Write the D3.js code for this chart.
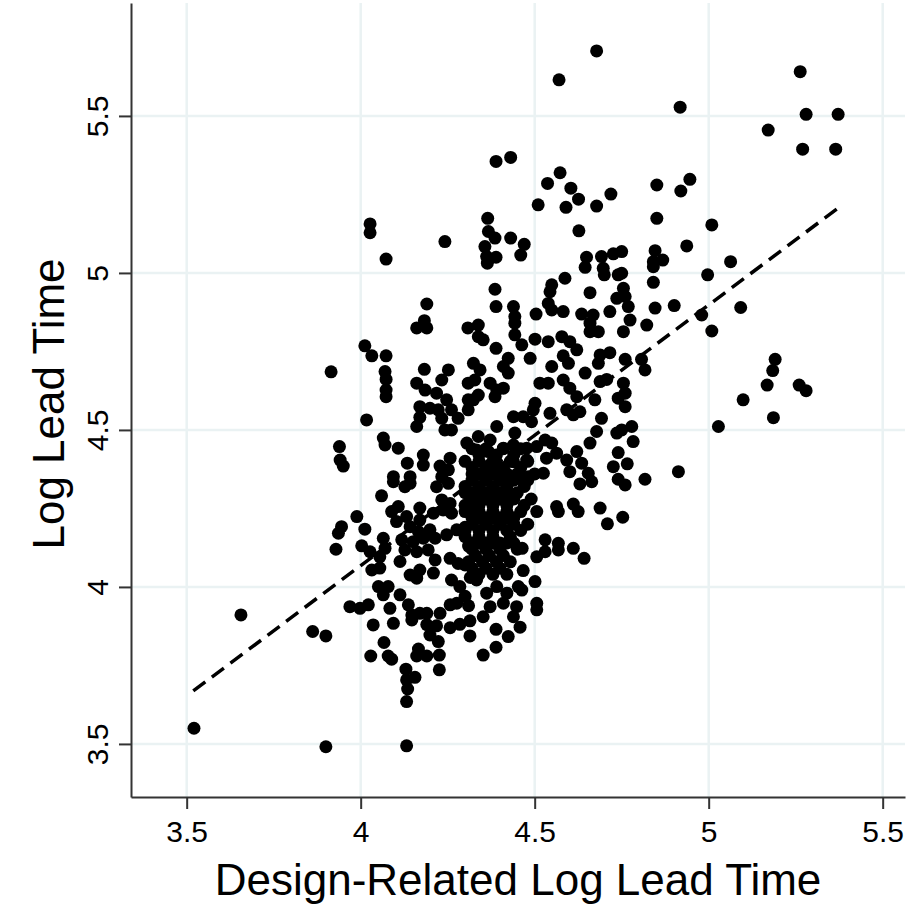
<!DOCTYPE html>
<meta charset="utf-8">
<head>
<style>
  body { margin: 0; background: #fff; }
  svg { display: block; }
  text { font-family: "Liberation Sans", Arial, sans-serif; fill: #000; }
</style>
</head>
<body>
<script src="https://d3js.org/d3.v7.min.js"></script>
<div id="chart"></div>
<script>

// design-related log lead time (x) vs log lead time (y)
const obs = [
  [3.521,3.550],[3.656,3.911],[3.862,3.858],[3.900,3.844],[3.900,3.491],[4.132,3.494],[3.915,4.685],
  [4.027,5.156],[4.027,5.128],[4.073,5.044],[4.242,5.100],[4.190,4.901],[4.183,4.848],[4.161,4.825],[4.190,4.825],[4.308,4.825],
  [4.389,5.355],[4.431,5.368],[4.573,5.319],[4.537,5.285],[4.604,5.270],[4.626,5.235],[4.719,5.251],[4.510,5.217],[4.590,5.209],
  [4.678,5.213],[4.627,5.134],[4.365,5.174],[4.367,5.132],[4.386,5.111],[4.357,5.084],[4.362,5.052],[4.389,5.050],[4.364,5.031],
  [4.431,5.111],[4.470,5.091],[4.460,5.057],[4.649,5.050],[4.645,5.018],[4.692,5.052],[4.697,5.015],[4.726,5.061],[4.740,4.994],
  [4.700,4.994],[4.587,4.983],[4.549,4.962],[4.544,4.940],[4.539,4.903],[4.549,4.882],[4.582,4.877],[4.659,4.937],[4.386,4.948],
  [4.389,4.893],[4.439,4.893],[4.443,4.861],[4.443,4.840],[4.504,4.869],[4.635,4.869],[4.668,4.866],[4.716,4.877],[4.659,4.840],
  [4.338,4.834],[4.736,4.919],
  [5.263,5.641],[5.280,5.505],[5.372,5.505],[5.171,5.455],[5.270,5.394],[5.365,5.394],[4.918,5.528],[4.851,5.280],[4.946,5.298],
  [4.920,5.261],[4.851,5.174],[5.009,5.153],[4.937,5.086],[4.846,5.071],[4.841,5.036],[4.868,5.041],[4.841,5.020],[5.063,5.036],
  [4.997,4.994],[4.841,4.970],[4.901,4.896],[4.846,4.888],[5.092,4.890],[4.980,4.866],[5.009,4.815],[4.822,4.834],[4.750,5.068],
  [4.750,4.999],[4.755,4.951],[4.760,4.925],[4.769,4.893],[4.774,4.850],[4.755,4.813],[4.760,4.725],[4.807,4.725],[4.817,4.691],
  [4.755,4.649],[4.760,4.617],[4.760,4.574],[4.779,4.511],[4.783,4.463],[4.750,4.500],[5.191,4.725],[5.184,4.689],[5.168,4.643],
  [5.260,4.643],[5.280,4.625],[5.099,4.596],[5.186,4.539],[5.028,4.511],
  [4.740,4.428],[4.766,4.392],[4.740,4.343],[4.760,4.325],[4.817,4.343],[4.913,4.367],[4.688,4.251],[4.709,4.201],[4.753,4.222],
  [4.630,4.328],[4.664,4.335],[4.611,4.264],[4.625,4.240],[4.506,4.240],[4.563,4.256],[4.568,4.240],[4.530,4.150],[4.568,4.139],
  [4.568,4.118],[4.530,4.112],[4.506,4.096],[4.611,4.123],[4.642,4.091],[4.464,4.123],[4.467,4.052],[4.501,4.017],[4.453,4.001],
  [4.463,3.990],[4.506,3.948],[4.506,3.927],
  [4.036,3.879],[4.094,3.884],[4.147,3.895],[4.067,3.823],[4.029,3.780],[4.079,3.780],[4.089,3.770],[4.130,3.738],[4.156,3.712],
  [4.132,3.704],[4.135,3.675],[4.132,3.635],[4.166,3.802],[4.190,3.780],[4.161,3.780],[4.199,3.847],[4.223,3.826],[4.226,3.783],
  [4.226,3.736],[4.190,3.880],[4.218,3.876],[4.257,3.870],[4.285,3.881],[4.314,3.892],[4.314,3.844],[4.352,3.783],[4.389,3.865],
  [4.389,3.808],[4.424,3.842],[4.458,3.872],
  [4.678,5.707],[4.570,5.615],
  [4.012,4.768],[4.032,4.736],[4.073,4.736],[4.070,4.686],[4.073,4.661],[4.073,4.627],[4.073,4.606],[4.017,4.532],
  [4.183,4.693],[4.252,4.691],[4.233,4.659],[4.161,4.649],[4.185,4.627],[4.218,4.617],[4.247,4.596],[4.261,4.564],[4.223,4.564],
  [4.199,4.569],[4.170,4.574],[4.161,4.511],[4.170,4.540],[4.233,4.537],[4.242,4.500],[4.261,4.500],[4.280,4.537],[4.309,4.649],
  [4.309,4.596],[4.309,4.564],[4.305,4.458],[3.939,4.447],[3.941,4.404],[3.950,4.385],[4.065,4.474],[4.070,4.452],[4.108,4.442],
  [4.134,4.394],[4.180,4.420],[4.180,4.388],[4.228,4.385],[4.257,4.410],[4.252,4.373],[4.233,4.351],[4.094,4.351],[4.142,4.351],
  [4.338,4.797],[4.352,4.787],[4.443,4.803],[4.463,4.771],[4.487,4.728],[4.501,4.789],[4.539,4.781],[4.578,4.797],[4.601,4.781],
  [4.621,4.755],[4.582,4.736],[4.597,4.712],[4.659,4.813],[4.683,4.813],[4.688,4.739],[4.716,4.746],[4.683,4.712],[4.389,4.760],
  [4.424,4.728],[4.410,4.702],[4.424,4.681],[4.324,4.712],[4.343,4.691],[4.549,4.702],[4.645,4.681],[4.688,4.654],[4.707,4.661],
  [4.582,4.659],[4.601,4.633],[4.621,4.606],[4.515,4.649],[4.539,4.649],[4.372,4.649],[4.391,4.627],[4.410,4.633],[4.328,4.659],
  [4.338,4.611],[4.324,4.596],[4.386,4.606],[4.673,4.596],[4.740,4.601],[4.501,4.585],[4.496,4.564],[4.592,4.564],[4.611,4.548],
  [4.630,4.558],[4.544,4.553],[4.439,4.542],[4.467,4.542],[4.491,4.526],[4.692,4.537],[4.391,4.511],[4.678,4.495],[4.736,4.490],
  [4.659,4.458],[4.621,4.431],[4.338,4.479],[4.372,4.468],[4.333,4.436],[4.367,4.431],[4.443,4.490],[4.439,4.452],[4.410,4.442],
  [4.477,4.442],[4.506,4.447],[4.530,4.468],[4.549,4.458],[4.563,4.426],[4.534,4.410],[4.477,4.404],[4.439,4.399],[4.592,4.404],
  [4.601,4.367],[4.635,4.394],[4.654,4.362],[4.726,4.383],[4.372,4.389],[4.352,4.362],[4.400,4.373],[4.420,4.351],[4.525,4.362],
  [4.482,4.351],[4.453,4.351],
  [4.060,4.290],[3.989,4.224],[3.945,4.192],[3.936,4.171],[3.929,4.120],[4.012,4.184],[4.003,4.131],[4.027,4.112],[4.065,4.155],
  [4.070,4.123],[4.055,4.096],[4.032,4.054],[4.055,4.060],[4.089,4.240],[4.108,4.256],[4.132,4.224],[4.103,4.208],[4.127,4.319],
  [4.142,4.330],[4.094,4.335],[4.170,4.251],[4.170,4.213],[4.142,4.192],[4.199,4.182],[4.166,4.176],[4.118,4.150],[4.151,4.144],
  [4.180,4.155],[4.127,4.118],[4.161,4.112],[4.194,4.118],[4.113,4.081],[4.214,4.086],[4.142,4.038],[4.170,4.054],[4.161,4.028],
  [4.209,4.044],[4.051,4.001],[4.079,4.001],[4.065,3.975],[4.113,3.975],[3.969,3.937],[3.998,3.932],[4.022,3.943],[4.084,3.932],
  [4.137,3.943],[4.147,3.911],[4.170,3.916],[4.218,4.319],[4.252,4.330],[4.233,4.277],[4.257,4.266],[4.209,4.235],[4.237,4.245],
  [4.261,4.235],[4.214,4.155],[4.247,4.166],[4.276,4.182],[4.257,4.091],[4.280,4.075],[4.261,4.022],[4.285,4.001],[4.257,3.943],
  [4.276,3.948],[4.228,3.916],[4.190,3.916],
  [4.300,4.300],[4.310,4.250],[4.300,4.190],[4.310,4.130],[4.300,4.070],[4.315,4.030],[4.300,3.970],[4.310,3.940],
  [4.333,4.022],[4.362,3.980],[4.391,4.001],[4.420,3.980],[4.372,3.937],[4.410,3.948],[4.448,3.937],[4.439,3.905],[4.352,3.905],
  // dense core
  [4.32,4.44],[4.36,4.44],[4.41,4.44],[4.46,4.44],
  [4.30,4.40],[4.34,4.40],[4.38,4.40],[4.43,4.40],[4.48,4.40],
  [4.32,4.36],[4.36,4.36],[4.40,4.36],[4.45,4.36],[4.50,4.36],
  [4.30,4.32],[4.34,4.32],[4.38,4.32],[4.42,4.32],[4.47,4.32],
  [4.32,4.28],[4.36,4.28],[4.40,4.28],[4.44,4.28],[4.49,4.28],
  [4.30,4.24],[4.34,4.24],[4.38,4.24],[4.42,4.24],[4.46,4.24],
  [4.32,4.20],[4.36,4.20],[4.40,4.20],[4.44,4.20],[4.48,4.20],
  [4.30,4.16],[4.34,4.16],[4.38,4.16],[4.43,4.16],
  [4.32,4.12],[4.36,4.12],[4.40,4.12],[4.45,4.12],
  [4.31,4.08],[4.35,4.08],[4.39,4.08],[4.43,4.08],
  [4.34,4.04],[4.38,4.04],[4.42,4.04],
  [4.34,4.42],[4.39,4.42],[4.44,4.42],
  [4.32,4.38],[4.36,4.38],[4.41,4.38],[4.46,4.38],
  [4.32,4.34],[4.36,4.34],[4.40,4.34],[4.44,4.34],[4.48,4.34],
  [4.32,4.30],[4.36,4.30],[4.40,4.30],[4.45,4.30],
  [4.30,4.26],[4.34,4.26],[4.38,4.26],[4.42,4.26],[4.47,4.26],
  [4.32,4.22],[4.36,4.22],[4.40,4.22],[4.44,4.22],
  [4.30,4.18],[4.34,4.18],[4.38,4.18],[4.42,4.18],[4.46,4.18],
  [4.32,4.14],[4.36,4.14],[4.40,4.14],[4.44,4.14],
  [4.33,4.10],[4.37,4.10],[4.41,4.10],
  [4.32,4.06],[4.36,4.06],[4.40,4.06],
  [4.34,4.30],[4.38,4.30],[4.42,4.30],[4.34,4.22],[4.38,4.22],[4.42,4.22],
  [4.34,4.14],[4.38,4.14],[4.42,4.14],[4.34,4.36],[4.38,4.36],[4.42,4.36]
];

// linear fit shown as dashed line
const fitX = [3.519, 5.370];
const fitCoef = [0.748, 0.830]; // intercept, slope

const xTicks = [3.5, 4, 4.5, 5, 5.5];
const yTicks = [3.5, 4, 4.5, 5, 5.5];
const xTitle = "Design-Related Log Lead Time";
const yTitle = "Log Lead Time";

const width = 910, height = 912;
const plot = { left: 131, right: 905, top: 3, bottom: 797 };

const svg = d3.select("#chart").append("svg")
    .attr("width", width)
    .attr("height", height);

const x = d3.scaleLinear()
    .domain([3.34, 3.34 + (plot.right - plot.left) / 348])
    .range([plot.left, plot.right]);

const y = d3.scaleLinear()
    .domain([3.331, 3.331 + (plot.bottom - plot.top) / 314])
    .range([plot.bottom, plot.top]);

// grid
svg.append("g").selectAll("line")
  .data(xTicks).join("line")
    .attr("x1", d => x(d)).attr("x2", d => x(d))
    .attr("y1", plot.top).attr("y2", plot.bottom)
    .attr("stroke", "#eaf2f3").attr("stroke-width", 2.5);

svg.append("g").selectAll("line")
  .data(yTicks).join("line")
    .attr("y1", d => y(d)).attr("y2", d => y(d))
    .attr("x1", plot.left).attr("x2", plot.right)
    .attr("stroke", "#eaf2f3").attr("stroke-width", 2.5);

// axes
const xAxis = svg.append("g")
    .attr("transform", `translate(0,${plot.bottom})`)
    .call(d3.axisBottom(x).tickValues(xTicks).tickSize(12).tickSizeOuter(0)
      .tickPadding(12).tickFormat(d3.format("")));

const yAxis = svg.append("g")
    .attr("transform", `translate(${plot.left},0)`)
    .call(d3.axisLeft(y).tickValues(yTicks).tickSize(12).tickSizeOuter(0)
      .tickPadding(0).tickFormat(d3.format("")));

[xAxis, yAxis].forEach(a => {
  a.select(".domain").attr("stroke", "#333").attr("stroke-width", 2);
  a.selectAll(".tick line").attr("stroke", "#333").attr("stroke-width", 2);
  a.selectAll(".tick text")
    .style("font-family", '"Liberation Sans", Arial, sans-serif')
    .attr("font-size", 30).attr("fill", "#000");
});

xAxis.selectAll(".tick text").attr("dy", "0.71em");

yAxis.selectAll(".tick text")
    .attr("x", null).attr("dy", null)
    .attr("text-anchor", "middle")
    .attr("transform", `translate(-23,0) rotate(-90)`);

// points
svg.append("g").selectAll("circle")
  .data(obs).join("circle")
    .attr("cx", d => x(d[0]))
    .attr("cy", d => y(d[1]))
    .attr("r", 6.5)
    .attr("fill", "#000");

// fit line
svg.append("line")
    .attr("x1", x(fitX[0])).attr("y1", y(fitCoef[0] + fitCoef[1] * fitX[0]))
    .attr("x2", x(fitX[1])).attr("y2", y(fitCoef[0] + fitCoef[1] * fitX[1]))
    .attr("stroke", "#000").attr("stroke-width", 3.5)
    .attr("stroke-dasharray", "15,8.2");

// titles
svg.append("text")
    .attr("x", (plot.left + plot.right) / 2)
    .attr("y", 895)
    .attr("text-anchor", "middle")
    .attr("font-size", 44)
    .text(xTitle);

svg.append("text")
    .attr("transform", `translate(64,404) rotate(-90)`)
    .attr("text-anchor", "middle")
    .attr("font-size", 44)
    .text(yTitle);

</script>
</body>
